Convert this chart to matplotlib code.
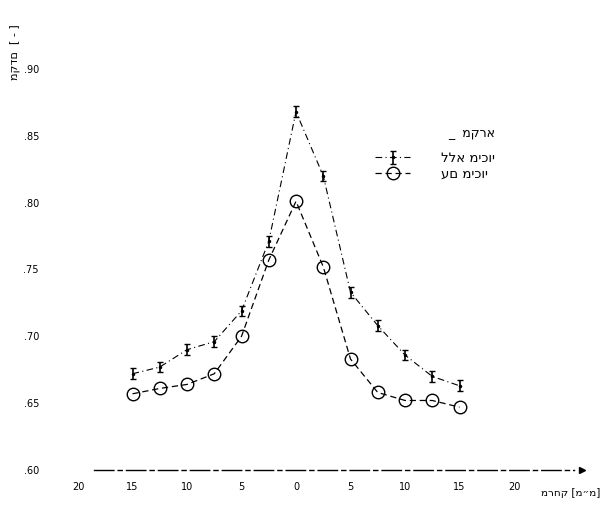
import numpy as np
import matplotlib
matplotlib.use("Agg")
import matplotlib.pyplot as plt

plt.rcParams['font.family'] = ['DejaVu Sans']

# distance (mm) and values for the two series
dist = [-15, -12.5, -10, -7.5, -5, -2.5, 0, 2.5, 5, 7.5, 10, 12.5, 15]
bli_mikuy = [0.672, 0.677, 0.690, 0.696, 0.719, 0.771, 0.868, 0.820, 0.733, 0.708, 0.686, 0.670, 0.663]
err_bli = [0.004] * len(dist)
im_mikuy = [0.657, 0.661, 0.664, 0.672, 0.700, 0.757, 0.801, 0.752, 0.683, 0.658, 0.652, 0.652, 0.647]

yticks = [0.60, 0.65, 0.70, 0.75, 0.80, 0.85, 0.90]
ytick_labels = [".60", ".65", ".70", ".75", ".80", ".85", ".90"]
xticks = [-20, -15, -10, -5, 0, 5, 10, 15, 20]
xtick_labels = ["20", "15", "10", "5", "0", "5", "10", "15", "20"]

fig = plt.figure(figsize=(6.09, 5.05), dpi=100)
ax = fig.add_axes([50/609, 35/505, 550/609, 450/505])

h1 = ax.errorbar(dist, bli_mikuy, yerr=err_bli, fmt='.', color='black', ms=3,
                 capsize=2, elinewidth=1.2, capthick=1.0,
                 linestyle=(0, (6, 3, 1, 3)), linewidth=0.8, label="ללא מיכוי")
h2, = ax.plot(dist, im_mikuy, color='black', linestyle=(0, (5, 3)), linewidth=0.9,
              marker='o', ms=9, mfc='none', mec='black', mew=1.0, label="עם מיכוי")

ax.set_xlim(-22.57, 27.89)
ax.set_ylim(0.60, 0.9366)

for s in ['left', 'right', 'top']:
    ax.spines[s].set_visible(False)
ax.spines['bottom'].set_bounds(-18.5, 25.5)
ax.spines['bottom'].set_linestyle((0, (14, 3, 3, 3)))
ax.spines['bottom'].set_linewidth(1.0)
ax.plot([26.2], [0.60], marker='>', color='black', ms=4, clip_on=False)

ax.set_yticks(yticks)
ax.set_yticklabels(ytick_labels, fontsize=7)
ax.set_xticks(xticks)
ax.set_xticklabels(xtick_labels, fontsize=7)
ax.tick_params(axis='y', length=0, pad=8)
ax.tick_params(axis='x', length=0, pad=9)

ax.text(1.0, -0.05, "מרחק [מ״מ]", transform=ax.transAxes, ha='right', va='center', fontsize=7.5)
ax.text(-0.065, 0.99, "מקדם  [ - ]", transform=ax.transAxes, rotation=90,
        ha='center', va='top', fontsize=8)

leg = ax.legend([h1, h2], ["ללא מיכוי", "עם מיכוי"], loc='upper left',
                bbox_to_anchor=(0.57, 0.79), frameon=False,
                fontsize=9.5, title="_  מקרא", title_fontsize=9, handlelength=2.6,
                handletextpad=2.4, alignment='right', labelspacing=0.2)
leg._legend_box.sep = 9

fig.savefig("out.png", dpi=100)
